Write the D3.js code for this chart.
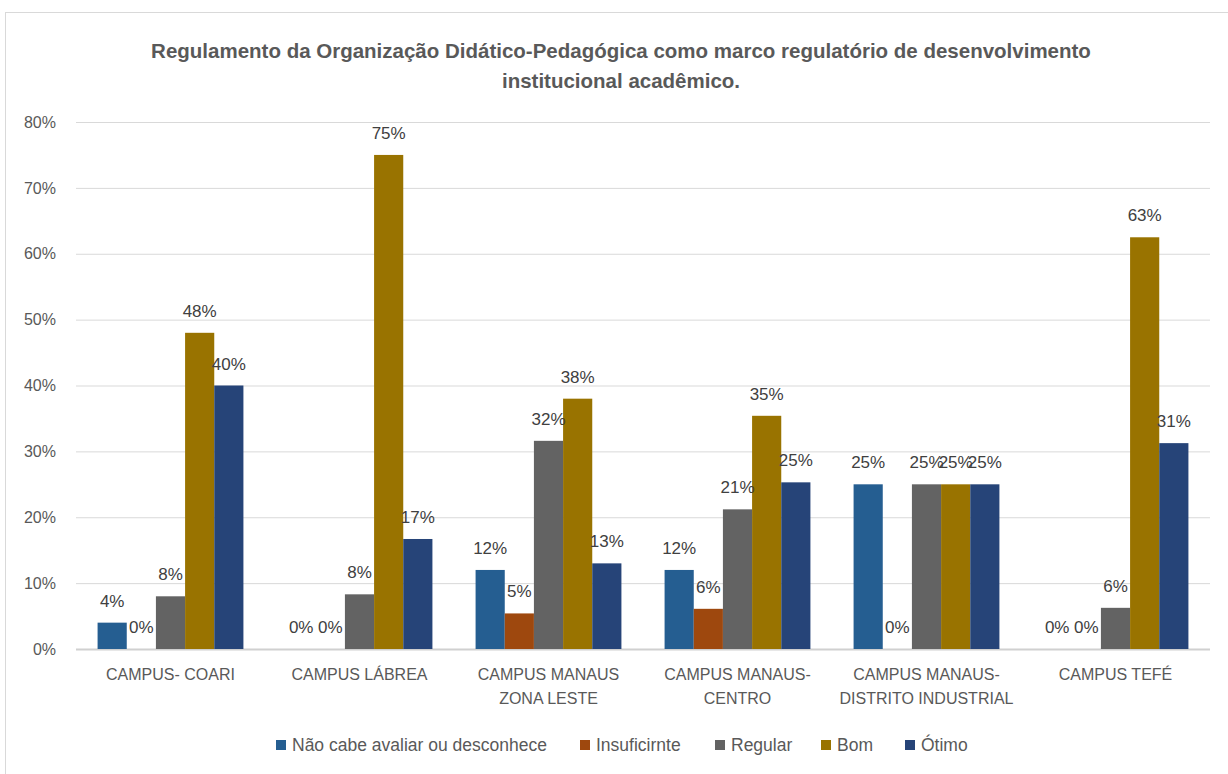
<!DOCTYPE html>
<html><head><meta charset="utf-8">
<script src="https://cdn.jsdelivr.net/npm/d3@7"></script>
<style>body{margin:0;background:#fff;} svg{display:block;font-family:"Liberation Sans",Arial,sans-serif;}</style>
</head><body>
<svg id="c" width="1228" height="774"></svg>
<script>
const categories = [["CAMPUS- COARI"],["CAMPUS LÁBREA"],["CAMPUS MANAUS","ZONA LESTE"],["CAMPUS MANAUS-","CENTRO"],["CAMPUS MANAUS-","DISTRITO INDUSTRIAL"],["CAMPUS TEFÉ"]];
const seriesNames = ["Não cabe avaliar ou desconhece","Insuficirnte","Regular","Bom","Ótimo"];
const seriesColors = ["#255e91","#9e480e","#636363","#997300","#264478"];
const naoCabe   = [0.04, 0, 0.12, 0.12, 0.25, 0];
const insuf     = [0, 0, 0.054, 0.061, 0, 0];
const regular   = [0.08, 0.083, 0.316, 0.212, 0.25, 0.0625];
const bom       = [0.48, 0.75, 0.38, 0.354, 0.25, 0.625];
const otimo     = [0.40, 0.167, 0.13, 0.253, 0.25, 0.3125];
const yTicks = [0,0.1,0.2,0.3,0.4,0.5,0.6,0.7,0.8];
const title = ["Regulamento da Organização Didático-Pedagógica como marco regulatório de desenvolvimento","institucional acadêmico."];

const series = [naoCabe, insuf, regular, bom, otimo];
const svg = d3.select("#c");
svg.append("rect").attr("x",5.5).attr("y",12.5).attr("width",1240).attr("height",800).attr("fill","#fff").attr("stroke","#d9d9d9");

const L=76, R=1210, T=122, B=649;
const y = d3.scaleLinear().domain([0,0.8]).range([B,T]);
const x0 = d3.scaleBand().domain(d3.range(categories.length)).range([L,R]).padding(0);
const x1 = d3.scaleBand().domain(d3.range(series.length)).range([0,x0.bandwidth()]).paddingInner(0).paddingOuter(0.74);

// title
svg.append("text").attr("text-anchor","middle")
  .attr("font-weight","bold").attr("font-size",20.5).attr("fill","#595959")
  .selectAll("tspan").data(title).join("tspan").attr("x",621).attr("y",(d,i)=>58+i*30).text(d=>d);

// grid
const yAxis = d3.axisLeft(y).tickValues(yTicks).tickFormat(d3.format(".0%")).tickSize(-(R-L)).tickPadding(20);
const ga = svg.append("g").attr("transform",`translate(${L},0)`).call(yAxis);
ga.select(".domain").remove();
ga.selectAll(".tick line").attr("stroke","#d9d9d9");
ga.selectAll(".tick text").attr("font-size",16).attr("fill","#595959").attr("font-family","Liberation Sans, Arial");
ga.selectAll(".tick").filter(d=>d===0).select("line").attr("stroke","#d0d0d0").attr("stroke-width",2);

// bars
const gc = svg.append("g").selectAll("g").data(categories).join("g").attr("transform",(d,i)=>`translate(${x0(i)},0)`);
gc.each(function(c,ci){
  const g = d3.select(this);
  series.forEach((s,si)=>{
    const v = s[ci];
    if (v>0) g.append("rect").attr("x",x1(si)).attr("width",x1.bandwidth()).attr("y",y(v)).attr("height",B-y(v)).attr("fill",seriesColors[si]);
  });
  series.forEach((s,si)=>{
    const v = s[ci];
    g.append("text").attr("x",x1(si)+x1.bandwidth()/2).attr("y",y(v)-16).attr("text-anchor","middle")
      .attr("font-size",17).attr("fill","#404040").text(d3.format(".0%")(v));
  });
  g.append("text").attr("text-anchor","middle").attr("font-size",16).attr("fill","#595959")
    .selectAll("tspan").data(c).join("tspan").attr("x",x0.bandwidth()/2).attr("y",(d,i)=>680+i*24).text(d=>d);
});

// legend
const legX = [276,580,715,821,905];
const lg = svg.append("g").selectAll("g").data(seriesNames).join("g").attr("transform",(d,i)=>`translate(${legX[i]},740)`);
lg.append("rect").attr("width",10).attr("height",10).attr("fill",(d,i)=>seriesColors[i]);
lg.append("text").attr("x",16).attr("y",11).attr("font-size",17.5).attr("fill","#595959").text(d=>d);
</script>
</body></html>
